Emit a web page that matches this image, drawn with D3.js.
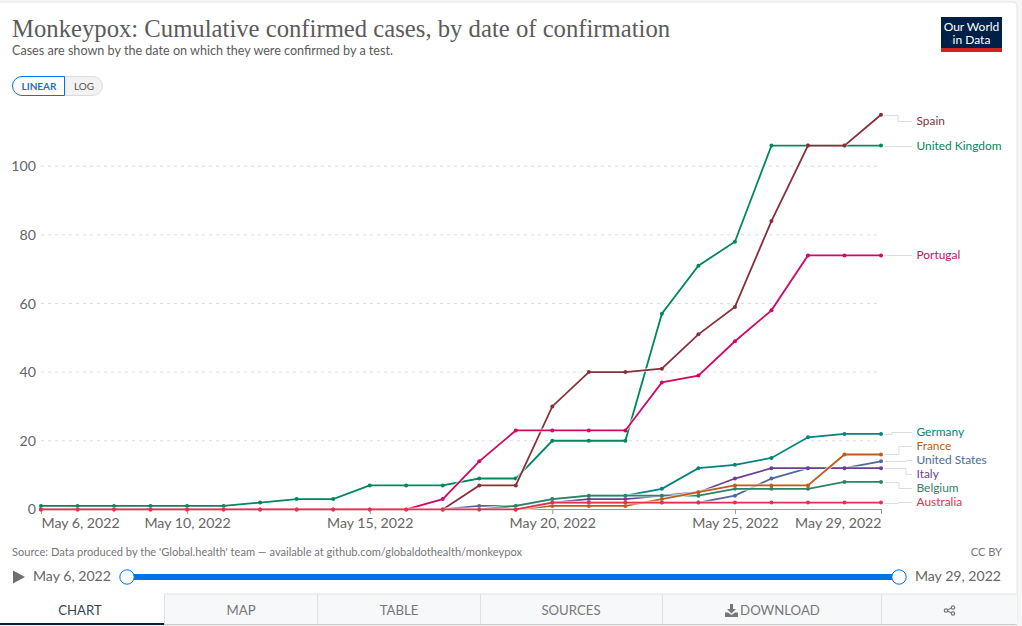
<!DOCTYPE html>
<html><head><meta charset="utf-8">
<script src="https://cdn.jsdelivr.net/npm/d3@7"></script>
<style>
html,body{margin:0;padding:0;background:#f6f6f6;overflow:hidden}
svg{display:block}
text{font-family:Lato,"Open Sans",sans-serif}
</style></head><body>
<svg id="c" width="1022" height="626"></svg>
<script>
const days = d3.range(24).map(i => new Date(2022,4,6+i));
const tickDates = [new Date(2022,4,6),new Date(2022,4,10),new Date(2022,4,15),new Date(2022,4,20),new Date(2022,4,25),new Date(2022,4,29)];
const yTicks = [0,20,40,60,80,100];
const _ = null;
const australia  = [0,0,0,0,0,0,0,0,0,0,0,0,0,0,2,2,2,2,2,2,2,2,2,2];
const portugal   = [0,0,0,0,0,0,0,0,0,0,0,3,14,23,23,23,23,37,39,49,58,74,74,74];
const spain      = [_,_,_,_,_,_,_,_,_,_,_,0,7,7,30,40,40,41,51,59,84,106,106,115];
const uk         = [1,1,1,1,1,1,2,3,3,7,7,7,9,9,20,20,20,57,71,78,106,106,106,106];
const germany    = [_,_,_,_,_,_,_,_,_,_,_,_,_,1,3,4,4,6,12,13,15,21,22,22];
const france     = [_,_,_,_,_,_,_,_,_,_,_,_,_,0,1,1,1,3,5,7,7,7,16,16];
const us         = [_,_,_,_,_,_,_,_,_,_,_,0,1,1,2,2,2,2,2,4,9,12,12,14];
const italy      = [_,_,_,_,_,_,_,_,_,_,_,_,_,0,2,3,3,4,5,9,12,12,12,12];
const belgium    = [_,_,_,_,_,_,_,_,_,_,_,_,0,1,3,4,4,4,4,6,6,6,8,8];
const seriesNames = ["United States","Italy","Germany","Belgium","France","United Kingdom","Spain","Portugal","Australia"];
const seriesVals = [us,italy,germany,belgium,france,uk,spain,portugal,australia];
const colors = {"Belgium":"#2b8465","Italy":"#6d3e91","United States":"#4c6a9c","France":"#c15a1a","Germany":"#00847e","United Kingdom":"#00875e","Spain":"#883039","Portugal":"#cf0a66","Australia":"#e0334f"};
const legendNames = ["Spain","United Kingdom","Portugal","Germany","France","United States","Italy","Belgium","Australia"];
const legendY = [121,146,255,432,446,460,474,488,502];
const legendElbow = [898,898,898,892,899,906,906,899,898];

const svg = d3.select("#c");
// card
svg.append("rect").attr("x",-6).attr("y",2).attr("width",1023).attr("height",623).attr("rx",4).attr("fill","#fff").attr("stroke","#e4e4e4");

const x = d3.scaleTime().domain([days[0],days[23]]).range([41,881]);
const y = d3.scaleLinear().domain([0,100]).range([509.4,166.2]);

// titles
svg.append("text").attr("x",12).attr("y",37).style("font-family","'Liberation Serif',serif").attr("font-size",24.7).attr("fill","#5b5b5b").text("Monkeypox: Cumulative confirmed cases, by date of confirmation");
svg.append("text").attr("x",12).attr("y",55).attr("font-size",12.6).attr("fill","#5b5b5b").text("Cases are shown by the date on which they were confirmed by a test.");

// logo
svg.append("rect").attr("x",941).attr("y",17).attr("width",61).attr("height",35).attr("fill","#002147");
svg.append("rect").attr("x",941).attr("y",48).attr("width",61).attr("height",4).attr("fill","#ce261e");
svg.append("text").attr("x",971.5).attr("y",31).attr("text-anchor","middle").attr("font-size",12).attr("fill","#fff").text("Our World");
svg.append("text").attr("x",971.5).attr("y",44).attr("text-anchor","middle").attr("font-size",12).attr("fill","#fff").text("in Data");

// toggle
svg.append("path").attr("d","M65,76.5H93a9.5,9.5 0 0 1 0,19H65Z").attr("fill","#f2f2f2").attr("stroke","#dcdcdc");
svg.append("path").attr("d","M64.5,76.5H22a9.5,9.5 0 0 0 0,19H64.5Z").attr("fill","#fff").attr("stroke","#0073e6").attr("stroke-width",1);
svg.append("text").attr("x",39).attr("y",90).attr("text-anchor","middle").attr("font-size",10).attr("font-weight",700).attr("fill","#1d6fd0").text("LINEAR");
svg.append("text").attr("x",84).attr("y",90).attr("text-anchor","middle").attr("font-size",10).attr("fill","#555").text("LOG");

// y grid + labels
const yAxis = d3.axisLeft(y).tickValues(yTicks).tickSize(0).tickFormat(d3.format("d"));
const gy = svg.append("g").attr("transform","translate(41,0)").call(yAxis);
gy.select(".domain").remove();
gy.selectAll("text").attr("x",-5).attr("dy","0.32em").attr("font-size",14.2).attr("fill","#666").style("font-family","Lato");
svg.append("g").selectAll("line").data(yTicks.filter(d=>d>0)).join("line")
  .attr("x1",41).attr("x2",881).attr("y1",d=>y(d)).attr("y2",d=>y(d))
  .attr("stroke","#ddd").attr("stroke-dasharray","3,4");

// x axis
const xAxis = d3.axisBottom(x).tickValues(tickDates).tickSize(5).tickFormat(d3.timeFormat("%b %-d, %Y"));
const gx = svg.append("g").attr("transform","translate(0,509)").call(xAxis);
gx.select(".domain").attr("stroke","#999").attr("d","M41,0.5H881");
gx.selectAll("line").attr("stroke","#999");
gx.selectAll("text").attr("y",9).attr("dy","0.71em").attr("font-size",14.15).attr("fill","#666").style("font-family","Lato")
  .attr("text-anchor",(d,i)=>i===0?"start":i===5?"end":"middle");

// lines
const line = d3.line().defined(d=>d.v!==null).x(d=>x(d.t)).y(d=>y(d.v));
seriesNames.forEach((n,k)=>{
  const pts = days.map((t,i)=>({t,v:seriesVals[k][i]}));
  const g = svg.append("g");
  g.append("path").attr("d",line(pts)).attr("fill","none").attr("stroke","#fff").attr("stroke-width",3.8).attr("opacity",.65);
  g.append("path").attr("d",line(pts)).attr("fill","none").attr("stroke",colors[n]).attr("stroke-width",1.8);
  g.selectAll("circle").data(pts.filter(d=>d.v!==null)).join("circle")
    .attr("cx",d=>x(d.t)).attr("cy",d=>y(d.v)).attr("r",2).attr("fill",colors[n]);
});

// legend + connectors
legendNames.forEach((n,k)=>{
  const vals = seriesVals[seriesNames.indexOf(n)];
  const y0 = Math.round(y(vals[23]))+.5, y1 = legendY[k]+.5;
  svg.append("path").attr("d",`M885,${y0}H${legendElbow[k]}V${y1}H912`).attr("fill","none").attr("stroke","#ddd").attr("stroke-width",1);
  svg.append("text").attr("x",916.5).attr("y",legendY[k]).attr("dy","0.35em").attr("font-size",11.9).attr("fill",colors[n]).text(n);
});

// footer
svg.append("text").attr("x",12).attr("y",556).attr("font-size",11.1).attr("fill","#777").text("Source: Data produced by the 'Global.health' team — available at github.com/globaldothealth/monkeypox");
svg.append("text").attr("x",1002).attr("y",556).attr("text-anchor","end").attr("font-size",11.1).attr("fill","#777").text("CC BY");

// timeline
svg.append("path").attr("d","M13,570.5L25,577L13,583.5Z").attr("fill","#6e6e6e");
svg.append("text").attr("x",33).attr("y",581).attr("font-size",14.1).attr("fill","#666").text("May 6, 2022");
svg.append("text").attr("x",1001).attr("y",581).attr("text-anchor","end").attr("font-size",14.1).attr("fill","#666").text("May 29, 2022");
const tl = d3.scaleTime().domain([days[0],days[23]]).range([127,899]);
svg.append("line").attr("x1",tl(days[0])).attr("x2",tl(days[23])).attr("y1",577).attr("y2",577).attr("stroke","#0073e6").attr("stroke-width",6);
[days[0],days[23]].forEach(d=>svg.append("circle").attr("cx",tl(d)).attr("cy",577).attr("r",7.2).attr("fill","#fff").attr("stroke","#0073e6").attr("stroke-width",1));

// tabs
const tabX = [164,317,480,662,881,1017];
svg.append("rect").attr("x",164).attr("y",594).attr("width",853).attr("height",30).attr("fill","#f7f8fa");
svg.append("line").attr("x1",164).attr("x2",1017).attr("y1",594).attr("y2",594).attr("stroke","#e0e0e0");
tabX.slice(0,5).forEach(v=>svg.append("line").attr("x1",v+.5).attr("x2",v+.5).attr("y1",594).attr("y2",624).attr("stroke","#e0e0e0"));
svg.append("line").attr("x1",164).attr("x2",1017).attr("y1",624.5).attr("y2",624.5).attr("stroke","#ccc");
svg.append("line").attr("x1",0).attr("x2",164).attr("y1",624).attr("y2",624).attr("stroke","#002147").attr("stroke-width",2);
svg.append("text").attr("x",80).attr("y",615).attr("text-anchor","middle").attr("font-size",13.2).attr("fill","#33475b").text("CHART");
svg.append("text").attr("x",241).attr("y",615).attr("text-anchor","middle").attr("font-size",13.2).attr("fill","#777").text("MAP");
svg.append("text").attr("x",399).attr("y",615).attr("text-anchor","middle").attr("font-size",13.2).attr("fill","#777").text("TABLE");
svg.append("text").attr("x",571).attr("y",615).attr("text-anchor","middle").attr("font-size",13.2).attr("fill","#777").text("SOURCES");
svg.append("text").attr("x",780).attr("y",615).attr("text-anchor","middle").attr("font-size",13.2).attr("fill","#777").text("DOWNLOAD");
// download icon
svg.append("path").attr("d","M730,604H733V609H736L731.5,613.5L727,609H730ZM725,612.5H728L731.5,615L735,612.5H738V617H725Z").attr("fill","#777");
// share icon
const sh = svg.append("g").attr("fill","none").attr("stroke","#777").attr("stroke-width",1.2);
sh.append("path").attr("d","M946,610.5L953,607.5M946,610.5L953,613.5");
[[946,610.5],[953,607.5],[953,613.5]].forEach(p=>sh.append("circle").attr("cx",p[0]).attr("cy",p[1]).attr("r",1.7).attr("fill","#fff"));
</script>
</body></html>
